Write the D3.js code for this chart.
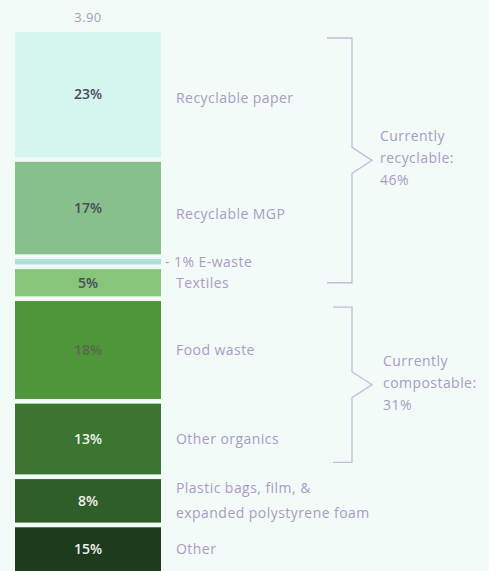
<!DOCTYPE html>
<html>
<head>
<meta charset="utf-8">
<script src="https://cdn.jsdelivr.net/npm/d3@7"></script>
<style>
  html, body { margin: 0; padding: 0; background: #f2fbf8; }
  svg { display: block; }
  text { font-family: "Open Sans", "DejaVu Sans", sans-serif; }
</style>
</head>
<body>
<svg id="chart" width="489" height="571"></svg>
<script>
// Waste composition, share of total (%)
const categories = ["Recyclable paper", "Recyclable MGP", "E-waste", "Textiles",
                    "Food waste", "Other organics", "Plastic bags, film, & foam", "Other"];
const shares = [23, 17, 1, 5, 18, 13, 8, 15];
const sideLabels = [
  ["Recyclable paper"],
  ["Recyclable MGP"],
  ["- 1% E-waste"],
  ["Textiles"],
  ["Food waste"],
  ["Other organics"],
  ["Plastic bags, film, &", "expanded polystyrene foam"],
  ["Other"]
];
const totalLabel = "3.90";
const groupTitles = [["Currently", "recyclable:"], ["Currently", "compostable:"]];
const groupMembers = [[0, 1, 2, 3], [4, 5]];

const fills = ["#d5f6ef", "#88c08c", "#a9e0d8", "#87c57b", "#4f963b", "#3b7531", "#2f5e2b", "#1f3b1e"];
const inkOnBar = ["#4b4a5c", "#4b4a5c", "#4b4a5c", "#4b4a5c", "#56684d", "#eef4ee", "#eef4ee", "#eef4ee"];

const W = 489, H = 571;
const svg = d3.select("#chart");
const stackTop = 32, gap = 4.7, barX = 15, barW = 146, labelX = 176;
const labelColor = "#a99bc4";

const h = d3.scaleLinear().domain([0, 100]).range([0, 544]);
const cum = d3.cumsum(shares);
const rows = shares.map((v, i) => {
  const y0 = stackTop + h(cum[i] - v) + i * gap;
  const y1 = y0 + h(v);
  // centre of the part of the segment that falls inside the frame
  return { i, v, y0, y1, mid: (y0 + Math.min(y1, H)) / 2 };
});

// stacked segments
svg.append("g").selectAll("rect").data(rows).join("rect")
  .attr("x", barX).attr("width", barW)
  .attr("y", d => d.y0).attr("height", d => d.y1 - d.y0)
  .attr("fill", d => fills[d.i]);

// value inside each segment (skip the thin sliver)
svg.append("g").selectAll("text").data(rows.filter(d => d.v >= 3)).join("text")
  .attr("x", barX + barW / 2).attr("y", d => d.mid)
  .attr("dy", "0.35em").attr("text-anchor", "middle")
  .attr("font-size", 14).attr("font-weight", 600)
  .attr("fill", d => inkOnBar[d.i])
  .text(d => d.v + "%");

// total above the bar
svg.append("text")
  .attr("x", barX + barW / 2).attr("y", 17).attr("dy", "0.35em")
  .attr("text-anchor", "middle").attr("font-size", 13)
  .attr("letter-spacing", 0.4)
  .attr("fill", labelColor).text(totalLabel);

// category labels to the right
const labelShift = [4, 6, 0, 0, 0, 0, 0, 0];
const lab = svg.append("g").selectAll("text").data(rows).join("text")
  .attr("font-size", 14).attr("letter-spacing", 0.45).attr("fill", labelColor);
lab.each(function(d) {
  const lines = sideLabels[d.i];
  const lh = 25;
  const x = d.i === 2 ? labelX - 11 : labelX;
  const start = d.mid - (lines.length - 1) * lh / 2 + labelShift[d.i];
  d3.select(this).selectAll("tspan").data(lines).join("tspan")
    .attr("x", x)
    .attr("y", (t, k) => start + k * lh)
    .attr("dy", "0.35em")
    .text(t => t);
});

// braces grouping recyclable / compostable segments
const braceX = 352, tipX = 372;
groupMembers.forEach((members, g) => {
  const first = rows[members[0]], last = rows[members[members.length - 1]];
  const yTop = first.y0 + 6;
  const yBot = g === 0 ? last.mid : last.y1 - 12;
  const yTip = (yTop + yBot) / 2;
  const leftX = g === 0 ? 327 : 333;
  const path = d3.path();
  path.moveTo(leftX, yTop);
  path.lineTo(braceX, yTop);
  path.lineTo(braceX, yTip - 13);
  path.lineTo(tipX, yTip);
  path.lineTo(braceX, yTip + 13);
  path.lineTo(braceX, yBot);
  path.lineTo(leftX, yBot);
  svg.append("path").attr("d", path.toString())
    .attr("fill", "none").attr("stroke", "#c6bbda").attr("stroke-width", 1.3);

  const total = d3.sum(members, m => shares[m]);
  const lines = groupTitles[g].concat([total + "%"]);
  svg.append("text").attr("font-size", 14).attr("letter-spacing", 0.45).attr("fill", labelColor)
    .selectAll("tspan").data(lines).join("tspan")
    .attr("x", tipX + 8 + (g === 1 ? 3 : 0))
    .attr("y", (t, k) => yTip - 24 + k * 22)
    .attr("dy", "0.35em")
    .text(t => t);
});
</script>
</body>
</html>
